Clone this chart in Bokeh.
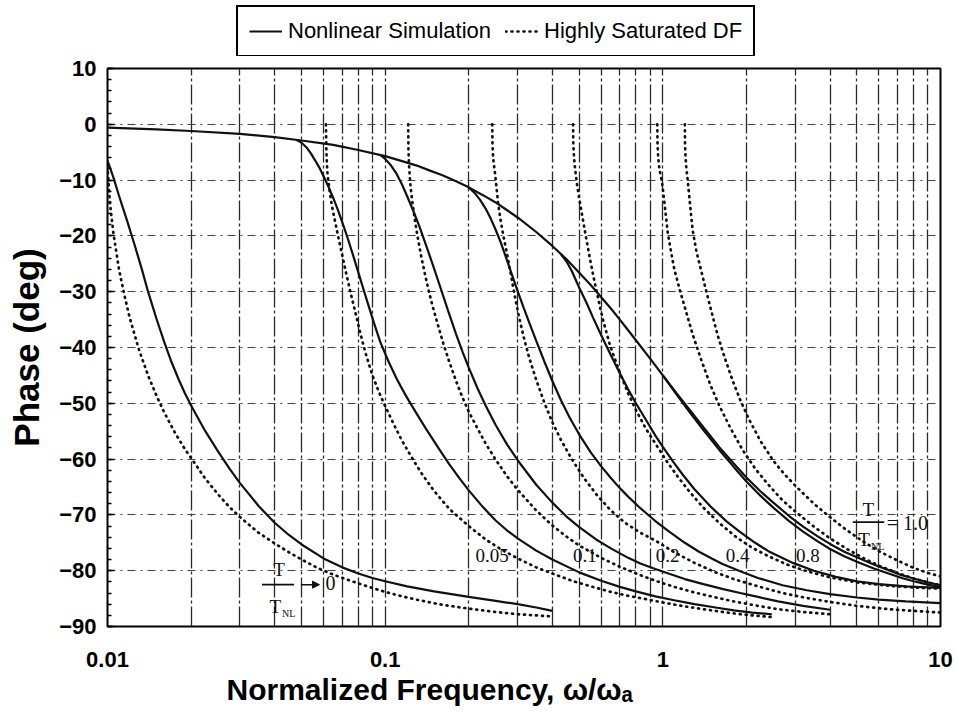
from bokeh.plotting import figure
from bokeh.layouts import column
from bokeh.models import (FixedTicker, SingleIntervalTicker, Legend, LegendItem, Label,
                          Arrow, NormalHead, Range1d, Title)
from bokeh.embed import file_html
from bokeh.resources import INLINE

# ---------------- data ----------------
X_TICKS = [0.01, 0.1, 1, 10]
X_TICK_LABELS = ["0.01", "0.1", "1", "10"]
Y_TICK_STEP = 10

# Nonlinear simulation (solid lines), T/T_NL -> 0, 0.05, 0.1, 0.2, 0.4, 0.8, 1.0
s00_w = [0.01, 0.0105, 0.011, 0.0118, 0.0125, 0.0133, 0.014, 0.015, 0.016, 0.017, 0.018,
         0.019, 0.02, 0.0225, 0.025, 0.0275, 0.03, 0.035, 0.04, 0.045, 0.05, 0.06, 0.07,
         0.08, 0.09, 0.1, 0.12, 0.15, 0.2, 0.25, 0.3, 0.35, 0.4]
s00_p = [-6.5, -9.5, -12.8, -17.5, -21.5, -26, -30, -34.8, -39, -42.6, -45.6, -48.2,
         -50.4, -55, -58.6, -61.7, -64.3, -68.4, -71.4, -73.6, -75.3, -77.8, -79.4,
         -80.5, -81.3, -81.9, -82.8, -83.7, -84.7, -85.4, -86.0, -86.6, -87.2]
s05_w = [0.048, 0.05, 0.052, 0.054, 0.056, 0.058, 0.06, 0.0625, 0.065, 0.0675, 0.07,
         0.0735, 0.077, 0.081, 0.086, 0.091, 0.096, 0.103, 0.11, 0.118, 0.125, 0.133,
         0.14, 0.155, 0.17, 0.185, 0.2, 0.225, 0.25, 0.275, 0.3, 0.35, 0.4, 0.5, 0.6,
         0.7, 0.8, 0.94, 1.1, 1.3, 1.55, 1.8, 2.1, 2.47]
s05_p = [-2.8, -3.3, -4.1, -5.2, -6.5, -7.8, -9.3, -11.2, -13.2, -15.3, -17.5, -20.6,
         -23.8, -27.4, -31.6, -35.5, -39.0, -42.6, -45.6, -48.4, -50.5, -52.7, -54.5,
         -57.9, -60.9, -63.4, -65.6, -68.6, -71.0, -72.8, -74.2, -76.4, -78.0, -80.3,
         -81.8, -82.9, -83.7, -84.6, -85.3, -86.0, -86.6, -87.1, -87.5, -87.8]
s10_w = [0.096, 0.1, 0.105, 0.11, 0.115, 0.12, 0.126, 0.133, 0.14, 0.149, 0.158, 0.168,
         0.18, 0.19, 0.2, 0.215, 0.23, 0.25, 0.275, 0.3, 0.35, 0.4, 0.45, 0.5, 0.575,
         0.65, 0.75, 0.83, 0.94, 1.06, 1.2, 1.4, 1.65, 1.9, 2.2, 2.6, 3.2, 4.0]
s10_p = [-5.5, -6.2, -7.4, -8.9, -10.8, -12.9, -15.4, -18.4, -21.5, -25.4, -29.2, -33.2,
         -37.6, -40.8, -43.6, -47.3, -50.4, -53.9, -57.4, -60.2, -64.6, -67.8, -70.3,
         -72.2, -74.4, -76.0, -77.7, -78.7, -79.7, -80.6, -81.5, -82.4, -83.3, -84.0,
         -84.7, -85.5, -86.3, -87.0]
s20_w = [0.2, 0.21, 0.22, 0.23, 0.24, 0.25, 0.26, 0.27, 0.28, 0.29, 0.3, 0.315, 0.33,
         0.35, 0.375, 0.4, 0.43, 0.46, 0.5, 0.55, 0.6, 0.65, 0.7, 0.76, 0.83, 0.94, 1.06,
         1.2, 1.35, 1.5, 1.64, 1.9, 2.2, 2.7, 3.3, 4.0, 5.0, 6.0, 7.5, 10.0]
s20_p = [-11.3, -12.3, -13.6, -15.1, -16.9, -18.9, -21.0, -23.3, -25.6, -27.8, -29.9,
         -32.8, -35.5, -38.8, -42.6, -46.0, -49.5, -52.4, -55.6, -58.8, -61.3, -63.4,
         -65.2, -67.0, -68.8, -71.1, -73.1, -75.0, -76.6, -77.8, -78.8, -80.1, -81.3,
         -82.6, -83.5, -84.2, -84.8, -85.2, -85.5, -85.8]
s40_w = [0.43, 0.45, 0.47, 0.5, 0.53, 0.56, 0.6, 0.65, 0.7, 0.75, 0.8, 0.87, 0.94, 1.0,
         1.09, 1.18, 1.3, 1.5, 1.7, 1.89, 2.15, 2.4, 2.94, 3.5, 4.2, 5.0, 6.0, 7.5, 10.0]
s40_p = [-23.3, -24.6, -26.3, -29.3, -31.9, -34.6, -37.8, -41.4, -44.6, -47.5, -50.0,
         -53.0, -55.8, -57.8, -60.5, -62.8, -65.4, -68.7, -71.2, -73.0, -75.0, -76.5,
         -78.6, -80.0, -81.1, -81.9, -82.4, -82.8, -83.1]
s80_w = [1.0, 1.12, 1.25, 1.4, 1.6, 1.8, 2.0, 2.25, 2.5, 2.85, 3.2, 3.6, 4.0, 4.5, 5.0,
         5.75, 6.5, 7.25, 8.0, 9.0, 10.0]
s80_p = [-45.0, -48.4, -51.6, -54.8, -58.4, -61.4, -64.0, -66.6, -68.7, -71.1, -73.0,
         -74.7, -76.1, -77.4, -78.4, -79.6, -80.5, -81.3, -81.9, -82.5, -83.0]
s100_w = [0.01, 0.015, 0.02, 0.03, 0.04, 0.05, 0.065, 0.08, 0.1, 0.115, 0.13, 0.145,
          0.16, 0.18, 0.2, 0.225, 0.25, 0.275, 0.3, 0.35, 0.4, 0.45, 0.5, 0.55, 0.6,
          0.65, 0.7, 0.75, 0.8, 0.9, 1.0, 1.12, 1.25, 1.4, 1.6, 1.8, 2.0, 2.25, 2.5,
          2.85, 3.2, 3.6, 4.0, 4.5, 5.0, 5.75, 6.5, 7.25, 8.0, 9.0, 10.0]
s100_p = [-0.6, -0.9, -1.2, -1.7, -2.3, -2.9, -3.7, -4.6, -5.7, -6.6, -7.4, -8.3, -9.1,
          -10.2, -11.3, -12.7, -14.0, -15.4, -16.7, -19.3, -21.8, -24.2, -26.6, -28.8,
          -31.0, -33.0, -35.0, -36.9, -38.7, -42.0, -45.0, -48.2, -51.2, -54.3, -57.9,
          -60.8, -63.3, -65.8, -67.8, -70.2, -72.1, -73.8, -75.2, -76.6, -77.6, -78.9,
          -79.9, -80.8, -81.4, -82.1, -82.6]

# Highly saturated describing function (dotted lines)
d00_w = [0.01, 0.0102, 0.0105, 0.011, 0.0115, 0.012, 0.0125, 0.013, 0.014, 0.015,
         0.016, 0.0175, 0.019, 0.02, 0.0225, 0.025, 0.0275, 0.03, 0.035, 0.04, 0.045,
         0.05, 0.057, 0.065, 0.075, 0.09, 0.1, 0.115, 0.13, 0.16, 0.2, 0.25, 0.3, 0.4]
d00_p = [-7.5, -14, -19.5, -26, -30.6, -34.5, -37.6, -40.5, -45, -48.6, -51.6, -55.3,
         -58.2, -59.8, -63.5, -66.3, -68.6, -70.4, -73.2, -75.1, -76.7, -78.0, -79.5,
         -80.7, -81.8, -83.1, -83.8, -84.6, -85.2, -86.1, -86.8, -87.4, -87.8, -88.2]
d05_w = [0.0612, 0.0614, 0.0617, 0.062, 0.0625, 0.063, 0.064, 0.065, 0.0665, 0.068, 0.07,
         0.0725, 0.075, 0.078, 0.0815, 0.085, 0.09, 0.095, 0.1, 0.108, 0.115, 0.125,
         0.135, 0.15, 0.17, 0.2, 0.23, 0.26, 0.3, 0.35, 0.4, 0.47, 0.55, 0.65, 0.75,
         0.87, 1.0, 1.2, 1.4, 1.65, 1.9, 2.2, 2.47]
d05_p = [0, -4.5, -7.2, -9, -10.3, -11.8, -14, -15.8, -18.2, -20.5, -23.4, -26.9, -30.1,
         -33.6, -37.6, -41, -45, -48, -50.5, -54, -56.7, -59.8, -62.5, -65.7, -68.9, -72,
         -74.4, -76.1, -77.8, -79.4, -80.5, -81.8, -82.8, -83.8, -84.5, -85.1, -85.7,
         -86.4, -86.9, -87.4, -87.8, -88.1, -88.3]
d10_w = [0.121, 0.1213, 0.1218, 0.1225, 0.1235, 0.125, 0.127, 0.129, 0.132, 0.135, 0.139,
         0.143, 0.148, 0.155, 0.162, 0.17, 0.18, 0.19, 0.2, 0.215, 0.23, 0.25, 0.275,
         0.3, 0.35, 0.4, 0.45, 0.5, 0.6, 0.7, 0.82, 0.94, 1.1, 1.3, 1.55, 1.8, 2.2, 2.6,
         3.2, 4.0]
d10_p = [0, -4.5, -7, -9, -11.3, -13.5, -16, -18.3, -21.2, -23.8, -26.8, -29.5, -32.5,
         -36, -39.3, -42.5, -46, -49, -51.5, -54.5, -57.2, -60.1, -63.1, -65.5, -69.2,
         -71.9, -73.9, -75.5, -77.7, -79.3, -80.7, -81.8, -82.9, -83.9, -84.8, -85.5,
         -86.3, -86.9, -87.4, -87.8]
d20_w = [0.243, 0.2435, 0.2445, 0.246, 0.249, 0.252, 0.255, 0.26, 0.267, 0.275, 0.283,
         0.292, 0.303, 0.315, 0.33, 0.35, 0.375, 0.4, 0.43, 0.47, 0.52, 0.58, 0.65, 0.73,
         0.83, 0.94, 1.1, 1.3, 1.55, 1.8, 2.2, 2.7, 3.3, 4.0, 5.0, 6.5, 8.0, 10.0]
d20_p = [0, -3.5, -5.5, -7, -9, -11.5, -14, -17, -20.2, -23.3, -26.7, -30.4, -34.4, -38,
         -41.8, -45.8, -50, -53.4, -56.6, -60, -63.4, -66.5, -69.2, -71.4, -73.2, -74.6,
         -76.7, -78.6, -80.3, -81.5, -82.8, -84.0, -84.9, -85.6, -86.3, -86.9, -87.2,
         -87.5]
d40_w = [0.475, 0.476, 0.479, 0.483, 0.49, 0.5, 0.515, 0.53, 0.546, 0.562, 0.579, 0.595,
         0.61, 0.645, 0.7, 0.75, 0.8, 0.87, 0.94, 1.03, 1.13, 1.25, 1.4, 1.6, 1.85, 2.1,
         2.4, 2.8, 3.3, 4.0, 5.0, 6.5, 8.0, 10.0]
d40_p = [0, -3.5, -6, -8, -10.5, -13.3, -17, -20.5, -24, -27.2, -30.2, -32.9, -35.2,
         -39.6, -44.5, -48.2, -51.2, -54.6, -57.2, -60.3, -63.1, -65.9, -68.7, -71.5,
         -74.1, -75.9, -77.4, -78.9, -80.1, -81.2, -82.1, -82.7, -83.0, -83.2]
d80_w = [0.955, 0.957, 0.962, 0.97, 0.98, 0.99, 1.0, 1.02, 1.04, 1.07, 1.1, 1.15, 1.2,
         1.28, 1.37, 1.48, 1.6, 1.75, 1.94, 2.15, 2.4, 2.7, 3.0, 3.5, 4.0, 4.6, 5.3, 6.0,
         7.0, 8.0, 9.0, 10.0]
d80_p = [0, -3.5, -5.8, -7.6, -9, -10, -11.5, -15.3, -19.2, -22.8, -26, -29.6, -32.8,
         -37.6, -42, -46.6, -50.5, -54.4, -58.4, -61.7, -64.6, -67.4, -69.4, -72.1, -74.2,
         -76.1, -77.8, -79.1, -80.4, -81.4, -82.1, -82.6]
d100_w = [1.2, 1.202, 1.207, 1.215, 1.23, 1.25, 1.28, 1.32, 1.38, 1.43, 1.48, 1.53, 1.58,
          1.67, 1.78, 1.9, 2.05, 2.25, 2.5, 2.75, 3.06, 3.5, 3.93, 4.5, 5.2, 6.0, 6.95,
          8.0, 9.0, 10.0]
d100_p = [0, -3.5, -5.8, -7.8, -10.2, -13.8, -18.9, -22.7, -26.6, -29.7, -32.6, -35.4,
          -38, -41.8, -45.8, -49.4, -53, -56.8, -60.3, -62.8, -65.2, -68.0, -70.1, -72.4,
          -74.6, -76.5, -78.1, -79.5, -80.4, -81.0]

curve_labels = ["0.05", "0.1", "0.2", "0.4", "0.8"]
curve_label_x = [0.243, 0.524, 1.04, 1.86, 3.33]
curve_label_y = -77.3

legend_labels = ["Nonlinear Simulation", "Highly Saturated DF"]

# ---------------- styles ----------------
FONT = "Liberation Sans"
SERIF = "Liberation Serif"
INK = "#111111"
solid = dict(line_color=INK, line_width=2.2)
dotted = dict(line_color=INK, line_width=2.7, line_dash="1 5", line_cap="round")

# ---------------- legend strip (separate figure above the chart) ----------------
leg = figure(width=954, height=56, x_range=Range1d(0, 1), y_range=Range1d(0, 1),
             output_backend="svg", toolbar_location=None,
             x_axis_location=None, y_axis_location=None,
             min_border_left=107, min_border_right=14, min_border_top=0,
             min_border_bottom=0)
leg.outline_line_color = None
leg.grid.visible = False
leg.background_fill_color = "white"
leg.border_fill_color = "white"
# renderers that only feed the legend swatches (their points lie outside the strip)
lr_s = leg.line([5, 6], [5, 6], **solid)
lr_d = leg.line([5, 6], [5, 6], **dotted)
legend = Legend(items=[LegendItem(label=legend_labels[0], renderers=[lr_s]),
                       LegendItem(label=legend_labels[1], renderers=[lr_d])],
                orientation="horizontal", location=(129, -1),
                border_line_color="black", border_line_width=2, border_line_alpha=1.0,
                label_text_font=FONT, label_text_font_size="22px",
                label_text_color="black",
                glyph_width=33, glyph_height=20, label_height=20,
                padding=11, spacing=14, label_standoff=6, margin=0,
                background_fill_color="white", background_fill_alpha=1.0)
leg.add_layout(legend)

# ---------------- main chart ----------------
p = figure(frame_width=833, frame_height=558, x_axis_type="log",
           x_range=Range1d(0.01, 10), y_range=Range1d(-90, 10),
           output_backend="svg", toolbar_location=None,
           min_border_left=107, min_border_right=14, min_border_top=12,
           min_border_bottom=70)
p.background_fill_color = "white"
p.border_fill_color = "white"
p.outline_line_color = "black"
p.outline_line_width = 2

minor = [m * d for d in X_TICKS[:-1] for m in range(2, 10)]
p.xaxis.ticker = FixedTicker(ticks=X_TICKS, minor_ticks=minor)
p.xaxis.major_label_overrides = {t: s for t, s in zip(X_TICKS, X_TICK_LABELS)}
p.yaxis.ticker = SingleIntervalTicker(interval=Y_TICK_STEP, num_minor_ticks=5)
p.ygrid.ticker = SingleIntervalTicker(interval=Y_TICK_STEP)

for ax in (p.xaxis, p.yaxis):
    ax.axis_line_color = None
    ax.major_label_text_font = FONT
    ax.major_label_text_font_style = "bold"
    ax.major_label_text_font_size = "22px"
    ax.major_label_text_color = "black"

p.xaxis.major_tick_line_color = None
p.xaxis.minor_tick_line_color = None
p.xaxis.major_label_standoff = 19

p.yaxis.major_tick_in = 7
p.yaxis.major_tick_out = 0
p.yaxis.minor_tick_in = 4
p.yaxis.minor_tick_out = 0
p.yaxis.major_tick_line_color = "black"
p.yaxis.minor_tick_line_color = "black"
p.yaxis.major_tick_line_width = 1.5
p.yaxis.minor_tick_line_width = 1.5
p.yaxis.major_label_standoff = 11
p.yaxis.axis_label = "Phase (deg)"
p.yaxis.axis_label_text_font = FONT
p.yaxis.axis_label_text_font_style = "bold"
p.yaxis.axis_label_text_font_size = "35px"
p.yaxis.axis_label_text_color = "black"
p.yaxis.axis_label_standoff = 10

p.xgrid.grid_line_color = "#2a2a2a"
p.xgrid.grid_line_width = 1.3
p.xgrid.grid_line_dash = "20 3 3 3"
p.xgrid.minor_grid_line_color = "#2a2a2a"
p.xgrid.minor_grid_line_width = 1.3
p.xgrid.minor_grid_line_dash = "20 3 3 3"
p.ygrid.grid_line_color = "#444444"
p.ygrid.grid_line_width = 1.2
p.ygrid.grid_line_dash = "8 5 2 5"

sol = [(s00_w, s00_p), (s05_w, s05_p), (s10_w, s10_p), (s20_w, s20_p),
       (s40_w, s40_p), (s80_w, s80_p), (s100_w, s100_p)]
dot = [(d00_w, d00_p), (d05_w, d05_p), (d10_w, d10_p), (d20_w, d20_p),
       (d40_w, d40_p), (d80_w, d80_p), (d100_w, d100_p)]
for w, ph in sol:
    p.line(w, ph, **solid)
for w, ph in dot:
    p.line(w, ph, **dotted)

# curve labels
for t, x in zip(curve_labels, curve_label_x):
    p.add_layout(Label(x=x, y=curve_label_y, text=t, text_font=SERIF, text_font_size="19px",
                       text_align="center", text_baseline="middle", text_color=INK))

def frac(xc, yc, x_bar0, x_bar1, x_t2, x_nl, dy_top, dy_bot):
    p.add_layout(Label(x=xc, y=yc + dy_top, text="T", text_font=SERIF, text_font_size="19px",
                       text_align="center", text_baseline="middle", text_color=INK))
    p.add_layout(Arrow(end=None, x_start=x_bar0, x_end=x_bar1, y_start=yc, y_end=yc,
                       line_color=INK, line_width=1.6))
    p.add_layout(Label(x=x_t2, y=yc + dy_bot, text="T", text_font=SERIF, text_font_size="19px",
                       text_align="center", text_baseline="middle", text_color=INK))
    p.add_layout(Label(x=x_nl, y=yc + dy_bot - 1.2, text="NL", text_font=SERIF,
                       text_font_size="10px", text_align="left", text_baseline="middle",
                       text_color=INK))

# T/T_NL -> 0 annotation
frac(0.0415, -82.5, 0.036, 0.047, 0.0402, 0.0425, 2.8, -4.0)
p.add_layout(Arrow(end=NormalHead(size=7, fill_color=INK, line_color=INK),
                   x_start=0.0497, x_end=0.058, y_start=-82.5, y_end=-82.5,
                   line_color=INK, line_width=1.5))
p.add_layout(Label(x=0.0635, y=-82.2, text="0", text_font=SERIF, text_font_size="20px",
                   text_align="center", text_baseline="middle", text_color=INK))

# T/T_NL = 1.0 annotation
frac(5.5, -71.3, 4.83, 6.27, 5.3, 5.62, 2.3, -3.1)
p.add_layout(Label(x=6.4, y=-71.4, text="= 1.0", text_font=SERIF, text_font_size="20px",
                   text_align="left", text_baseline="middle", text_color=INK))

# x-axis title (below the axis, shifted to the left like the reference)
p.add_layout(Title(text="Normalized Frequency, ω/ωₐ", align="left", offset=119,
                   text_font=FONT, text_font_style="bold", text_font_size="30px",
                   text_color="black", standoff=3), "below")

page = column(leg, p, spacing=0)
open("out.html", "w").write(file_html(page, INLINE))
